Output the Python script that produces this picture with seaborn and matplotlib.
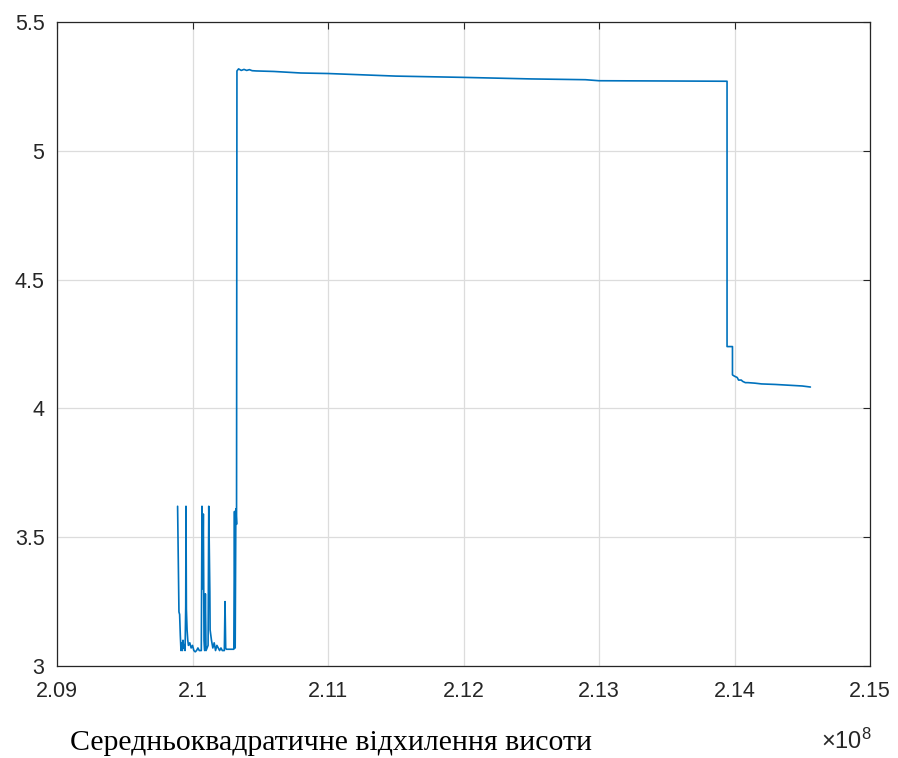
import numpy as np
import pandas as pd
import matplotlib
matplotlib.use("Agg")
import matplotlib.pyplot as plt
from matplotlib.ticker import FuncFormatter
import seaborn as sns

# ---- data (x in units of 1e8, y values) ----
x_noise = [2.0989, 2.0990, 2.09905, 2.0991, 2.09915, 2.0992, 2.09925, 2.0993, 2.09935,
           2.0994, 2.09945, 2.0995, 2.09952, 2.09955, 2.0996, 2.09965, 2.0997, 2.0998,
           2.0999, 2.1000, 2.1001, 2.1002, 2.1003, 2.1004, 2.1005, 2.10065, 2.1007,
           2.10075, 2.1008, 2.10085, 2.1009, 2.10095, 2.1010, 2.10115, 2.1012, 2.10128,
           2.1013, 2.1014, 2.1015, 2.1016, 2.1017, 2.1018, 2.1019, 2.1020, 2.1021,
           2.1022, 2.10235, 2.1024, 2.10245, 2.1025, 2.1027, 2.1029, 2.10305, 2.1031,
           2.10315, 2.1032, 2.10325]
y_noise = [3.62, 3.21, 3.20, 3.12, 3.06, 3.09, 3.06, 3.10, 3.07,
           3.08, 3.06, 3.23, 3.62, 3.22, 3.14, 3.10, 3.08, 3.09,
           3.07, 3.08, 3.06, 3.055, 3.06, 3.07, 3.06, 3.06, 3.62,
           3.30, 3.59, 3.10, 3.06, 3.28, 3.06, 3.08, 3.62, 3.29,
           3.14, 3.10, 3.07, 3.09, 3.06, 3.08, 3.07, 3.06, 3.07,
           3.06, 3.06, 3.25, 3.07, 3.065, 3.065, 3.065, 3.065, 3.60,
           3.07, 3.61, 3.55]

x_plateau = [2.10328, 2.1034, 2.1036, 2.1038, 2.1040, 2.1042, 2.1044, 2.1047, 2.1060,
             2.1080, 2.1100, 2.1150, 2.1200, 2.1250, 2.1290, 2.1300, 2.1350, 2.13945]
y_plateau = [5.31, 5.318, 5.312, 5.316, 5.312, 5.315, 5.311, 5.310, 5.308,
             5.302, 5.300, 5.290, 5.285, 5.279, 5.276, 5.272, 5.271, 5.270]

x_tail = [2.13945, 2.13985, 2.13985, 2.1400, 2.1402, 2.1403, 2.1405, 2.1406, 2.1408,
          2.1410, 2.1415, 2.1420, 2.1430, 2.1440, 2.1450, 2.1456]
y_tail = [4.24, 4.24, 4.13, 4.125, 4.12, 4.11, 4.11, 4.105, 4.10,
          4.10, 4.098, 4.095, 4.093, 4.09, 4.087, 4.083]

x_ticks = [2.09, 2.10, 2.11, 2.12, 2.13, 2.14, 2.15]
y_ticks = [3, 3.5, 4, 4.5, 5, 5.5]
caption = "Середньоквадратичне відхилення висоти"

scale = 1e8
df = pd.DataFrame({
    "x": np.array(x_noise + x_plateau + x_tail) * scale,
    "y": y_noise + y_plateau + y_tail,
})

sns.set_theme(style="white")
plt.rcParams["font.family"] = ["Liberation Sans", "DejaVu Sans"]
plt.rcParams["mathtext.default"] = "regular"

fig = plt.figure(figsize=(8.98, 7.58), dpi=100)
ax = fig.add_axes([57 / 898, 1 - 666 / 758, (870 - 57) / 898, (666 - 22) / 758])

sns.lineplot(data=df, x="x", y="y", estimator=None, sort=False,
             color="#0072BD", linewidth=1.2, ax=ax)

ax.set_xlim(x_ticks[0] * scale, x_ticks[-1] * scale)
ax.set_ylim(y_ticks[0], y_ticks[-1])
ax.set_xticks([t * scale for t in x_ticks])
ax.set_yticks(y_ticks)
ax.xaxis.set_major_formatter(FuncFormatter(lambda v, p: "%g" % round(v / scale, 4)))
ax.yaxis.set_major_formatter(FuncFormatter(lambda v, p: "%g" % v))
ax.set_xlabel("")
ax.set_ylabel("")

ax.grid(True, color="#dcdcdc", linewidth=0.9)
ax.set_axisbelow(True)
for s in ax.spines.values():
    s.set_color("#262626")
    s.set_linewidth(0.9)
    s.set_visible(True)

ax.tick_params(axis="both", which="major", direction="in", length=5, width=0.8,
               color="#262626", labelcolor="#262626", labelsize=15.5,
               top=True, right=True)
ax.tick_params(axis="x", pad=11)
ax.tick_params(axis="y", pad=9)

fig.text(70 / 898, 1 - 743 / 758, caption, family=["Liberation Serif", "DejaVu Serif"],
         fontsize=21.5, color="black", va="center", ha="left")
fig.text(872 / 898, 1 - 741 / 758, r"$\times 10^{8}$", fontsize=17,
         color="#262626", va="center", ha="right")

fig.savefig("out.png", dpi=100)
